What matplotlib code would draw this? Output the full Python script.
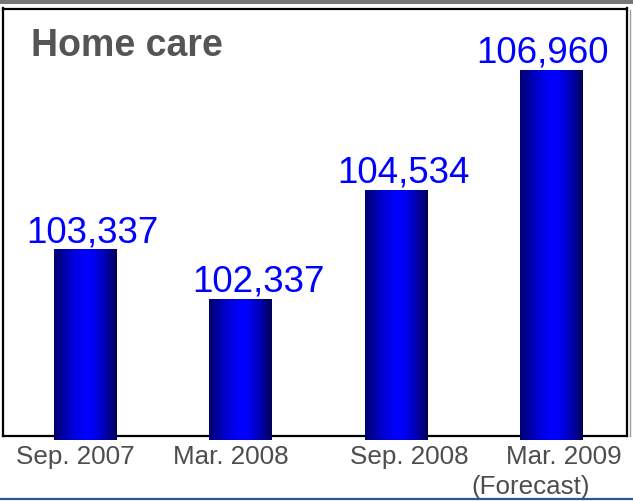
import numpy as np
import matplotlib
matplotlib.use("Agg")
import matplotlib.pyplot as plt
from matplotlib.colors import LinearSegmentedColormap
from matplotlib.patches import Rectangle
from matplotlib.lines import Line2D

# Data
periods = ["Sep. 2007", "Mar. 2008", "Sep. 2008", "Mar. 2009"]
values = [103337, 102337, 104534, 106960]
value_labels = ["103,337", "102,337", "104,534", "106,960"]
forecast_note = "(Forecast)"
title = "Home care"

W, H, DPI = 633, 502, 100
fig = plt.figure(figsize=(W / DPI, H / DPI), dpi=DPI)
fig.patch.set_facecolor("white")

def px_x(p):
    return p / W

def px_y(p):
    return 1 - p / H

ax_left, ax_right, ax_top, ax_bottom = 3, 627, 9.5, 437
ax = fig.add_axes([px_x(ax_left), px_y(ax_bottom),
                   px_x(ax_right - ax_left), (ax_bottom - ax_top) / H])
ax.set_facecolor("white")

y_lo, y_hi = 99582, 108215
x_lo, x_hi = -0.527, 3.489
bar_w = 0.40

for s in ax.spines.values():
    s.set_color("black")
    s.set_linewidth(1.6)
    s.set_zorder(2)
ax.set_xticks([])
ax.set_yticks([])

# Horizontal gradient used for every bar: dark edges, bright blue core
grad_cmap = LinearSegmentedColormap.from_list(
    "bar_grad", [(0.0, "#00006e"), (0.3, "#0000d8"), (0.5, "#0000ff"),
                 (0.62, "#0000f8"), (0.8, "#0000b8"), (1.0, "#000058")])
grad = np.linspace(0, 1, 256).reshape(1, -1)

# Bars run slightly below the frame's bottom edge
base = y_lo - (y_hi - y_lo) * 4.5 / (ax_bottom - ax_top)
x = np.arange(len(values))
bars = ax.bar(x, np.array(values) - base, bottom=base, width=bar_w,
              color="none", edgecolor="none", clip_on=False, zorder=3)
for b in bars:
    x0, y0 = b.get_x(), b.get_y()
    ax.imshow(grad, cmap=grad_cmap, aspect="auto", interpolation="bilinear",
              extent=[x0, x0 + b.get_width(), y0, y0 + b.get_height()],
              zorder=3, clip_on=False)

ax.set_xlim(x_lo, x_hi)
ax.set_ylim(y_lo, y_hi)

# Value labels above bars
label_dx = [7.5, 18, 8, -8.5]
for xi, v, lab, dx in zip(x, values, value_labels, label_dx):
    ax.annotate(lab, xy=(xi, v), xytext=(dx * 0.72, 9 * 0.72),
                textcoords="offset points", ha="center", va="baseline",
                fontsize=26.5, color="#0000ff", family="Liberation Sans",
                annotation_clip=False, zorder=5)

# Category labels beneath the frame
tick_dx = [-10, -9, 14, 13]
for xi, lab, dx in zip(x, periods, tick_dx):
    ax.annotate(lab, xy=(xi, 0), xycoords=("data", "axes fraction"),
                xytext=(dx * 0.72, -8 * 0.72), textcoords="offset points",
                ha="center", va="top", fontsize=18.7, color="#4d4d4d",
                family="Liberation Sans", annotation_clip=False)
ax.annotate(forecast_note, xy=(x[-1], 0), xycoords=("data", "axes fraction"),
            xytext=(-20 * 0.72, -38 * 0.72), textcoords="offset points",
            ha="center", va="top", fontsize=18.7, color="#4d4d4d",
            family="Liberation Sans", annotation_clip=False)

# Title inside the frame
fig.text(px_x(31), px_y(28), title, ha="left", va="top", fontsize=27,
         fontweight="bold", color="#555555", family="Liberation Sans")

# Decorative bands and shadow
fig.patches.append(Rectangle((0, px_y(4.5)), 1, 4.5 / H, transform=fig.transFigure,
                             facecolor="#777777", edgecolor="none", zorder=0))
fig.lines.append(Line2D([0, 1], [px_y(500), px_y(500)], transform=fig.transFigure,
                        color="#2a5a8a", linewidth=1.6))
fig.lines.append(Line2D([px_x(629.5), px_x(629.5)], [px_y(11), px_y(437)],
                        transform=fig.transFigure, color="#9a9a9a", linewidth=1.0))

fig.savefig("out.png", dpi=DPI, facecolor="white")
